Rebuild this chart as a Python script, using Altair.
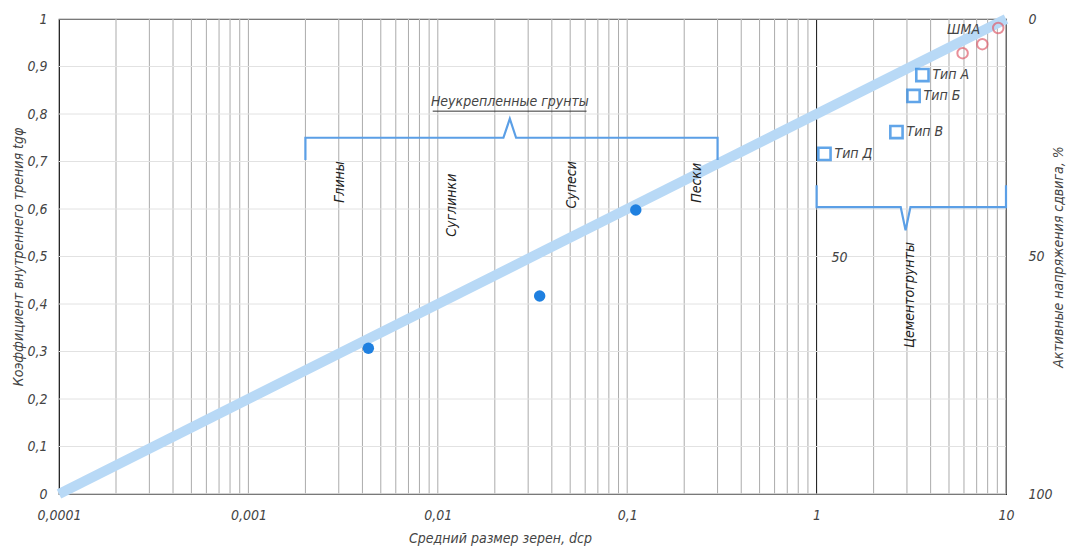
import altair as alt
import pandas as pd

FONT = "Liberation Sans Narrow, DejaVu Sans Condensed, Liberation Sans, sans-serif"
TXT = "#444444"
BLUE = "#1f80e0"
LBLUE = "#5b9fe6"

# ---- data ----
trend_x = [0.0001, 10]
trend_y = [0.0, 1.0]

dots_x = [0.0043, 0.0345, 0.111]
dots_y = [0.307, 0.417, 0.598]

sq_names = ["Тип А", "Тип Б", "Тип В", "Тип Д"]
sq_x = [3.62, 3.25, 2.64, 1.10]
sq_y = [0.882, 0.838, 0.762, 0.716]

shma_x = [5.9, 7.5, 9.1]
shma_y = [0.928, 0.947, 0.981]

# vertical grid (log minor/major positions)
grid_x = [m * 10.0 ** e for e in range(-4, 1) for m in range(1, 10)][1:] + [10.0]
x_ticks = [0.0001, 0.001, 0.01, 0.1, 1, 10]
y_ticks = [0, 0.1, 0.2, 0.3, 0.4, 0.5, 0.6, 0.7, 0.8, 0.9, 1.0]
pct_ticks = [0, 50, 100]

# brackets
br1_x = [0.002, 0.002, 0.0222, 0.024, 0.0259, 0.3, 0.3]
br1_y = [0.703, 0.75, 0.75, 0.79, 0.75, 0.75, 0.703]
br2_x = [1.0, 1.0, 2.78, 2.95, 3.13, 10.0, 10.0]
br2_y = [0.65, 0.604, 0.604, 0.555, 0.604, 0.604, 0.65]

# rotated labels
rot_text = ["Глины", "Суглинки", "Супеси", "Пески", "Цементогрунты"]
rot_x = [0.00304, 0.01186, 0.0509, 0.233, 3.10]
rot_y = [0.657, 0.608, 0.651, 0.655, 0.419]

# other annotations
ann_text = ["Неукрепленные грунты", "ШМА", "50"]
ann_x = [0.024, 5.97, 1.32]
ann_y = [0.826, 0.977, 0.497]
underline_x = [0.0094, 0.061]
underline_y = [0.806, 0.806]

xs = alt.Scale(type="log", domain=[0.0001, 10], nice=False)
ys = alt.Scale(domain=[0, 1], nice=False)

XAX = alt.Axis(values=x_ticks, labelExpr="replace(format(datum.value, '~g'), '.', ',')",
               title="Средний размер зерен, dср", grid=False, ticks=False, domain=False,
               labelFlush=False, labelPadding=14, titleX=441, titleY=44,
               titleBaseline="middle")
YAX = alt.Axis(values=y_ticks, labelExpr="replace(format(datum.value, '~g'), '.', ',')",
               title="Коэффициент внутреннего трения  tgφ", grid=False, ticks=False,
               domain=False, labelPadding=12, titleX=-41, titleAngle=270,
               titleBaseline="middle")

X = lambda f: alt.X(f, type="quantitative", scale=xs, axis=XAX)
Y = lambda f: alt.Y(f, type="quantitative", scale=ys, axis=YAX)

grid_df = pd.DataFrame({"x": grid_x, "major": [v == 1.0 for v in grid_x]})
grid = alt.Chart(grid_df).mark_rule(strokeWidth=1).encode(
    x=X("x"),
    color=alt.condition("datum.major", alt.value("#111111"), alt.value("#ababab")),
)

hgrid = alt.Chart(pd.DataFrame({"y": y_ticks})).mark_rule(color="#e2e2e2", strokeWidth=1).encode(
    y=Y("y"))

trend = alt.Chart(pd.DataFrame({"x": trend_x, "y": trend_y})).mark_line(
    color="#b8d9f6", strokeWidth=10, strokeCap="butt").encode(x=X("x"), y=Y("y"))

def bracket(xv, yv):
    df = pd.DataFrame({"x": xv, "y": yv, "o": list(range(len(xv)))})
    return alt.Chart(df).mark_line(color=LBLUE, strokeWidth=2.2).encode(
        x=X("x"), y=Y("y"), order="o:Q")

br1 = bracket(br1_x, br1_y)
br2 = bracket(br2_x, br2_y)

uline = alt.Chart(pd.DataFrame({"x": underline_x, "y": underline_y})).mark_line(
    color="#333333", strokeWidth=1).encode(x=X("x"), y=Y("y"))

dots = alt.Chart(pd.DataFrame({"x": dots_x, "y": dots_y})).mark_circle(
    color=BLUE, size=130, opacity=1).encode(x=X("x"), y=Y("y"))

sq_df = pd.DataFrame({"x": sq_x, "y": sq_y, "n": sq_names})
squares = alt.Chart(sq_df).mark_square(
    filled=False, color=BLUE, size=150, strokeWidth=2.6).encode(x=X("x"), y=Y("y"))
sq_lab = alt.Chart(sq_df).mark_text(
    align="left", dx=10, font=FONT, fontStyle="italic", fontSize=14, color=TXT).encode(
    x=X("x"), y=Y("y"), text="n:N")

shma = alt.Chart(pd.DataFrame({"x": shma_x, "y": shma_y})).mark_point(
    shape="circle", filled=False, color="#e0606e", size=110, strokeWidth=2).encode(
    x=X("x"), y=Y("y"))

rot = alt.Chart(pd.DataFrame({"x": rot_x, "y": rot_y, "t": rot_text})).mark_text(
    angle=270, font=FONT, fontStyle="italic", fontSize=14, color="#222222").encode(
    x=X("x"), y=Y("y"), text="t:N")

ann = alt.Chart(pd.DataFrame({"x": ann_x, "y": ann_y, "t": ann_text})).mark_text(
    font=FONT, fontStyle="italic", fontSize=14, color=TXT).encode(
    x=X("x"), y=Y("y"), text="t:N")

main = alt.layer(grid, hgrid, trend, br1, br2, uline, dots, squares, sq_lab, shma, rot, ann)

right = alt.Chart(pd.DataFrame({"p": pct_ticks})).mark_point(opacity=0).encode(
    x=alt.value(0),
    y=alt.Y("p:Q", scale=alt.Scale(domain=[0, 100], reverse=True, nice=False),
            axis=alt.Axis(orient="right", values=pct_ticks, title="Активные напряжения сдвига, %",
                          grid=False, ticks=False, domain=False, labelPadding=22,
                          titleX=52, titleAngle=270, titleBaseline="middle")),
)

chart = alt.layer(main, right).resolve_scale(y="independent").properties(
    width=947, height=475,
    background="white",
    autosize=alt.AutoSizeParams(type="none"),
    padding={"left": 59, "top": 19, "right": 63, "bottom": 54},
).configure_view(stroke="#111111", strokeWidth=1.2).configure_axis(
    labelFont=FONT, titleFont=FONT, labelFontStyle="italic", titleFontStyle="italic",
    labelFontSize=14, titleFontSize=14, labelColor=TXT, titleColor=TXT,
    titleFontWeight="normal",
)

chart.save("out.html", embed_options={"renderer": "svg", "actions": False})
